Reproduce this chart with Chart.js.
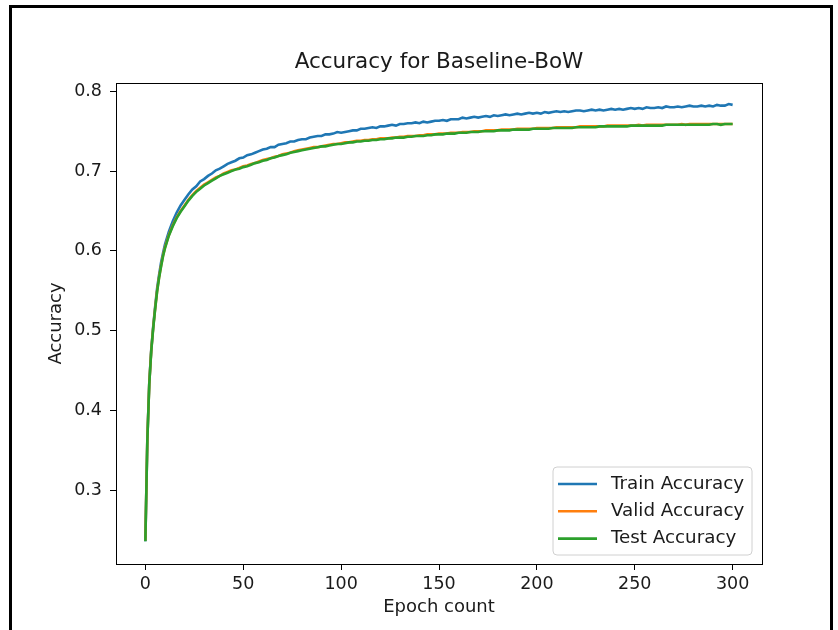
<!DOCTYPE html>
<html lang="en">
<head>
    <meta charset="UTF-8">
    <title>Accuracy for Baseline-BoW</title>
    <script src="https://cdn.jsdelivr.net/npm/chart.js"></script>
    <style>
        * { box-sizing: border-box; margin: 0; padding: 0; }
        body { background: #fff; }
        .wrap { position: relative; width: 838px; height: 630px; overflow: hidden; }
        .frame {
            position: absolute; left: 9px; top: 5px; width: 824px; height: 640px;
            border-left: 3px solid #000; border-top: 3px solid #000; border-right: 3px solid #000;
            pointer-events: none;
        }
    </style>
</head>
<body>
<div class="wrap">
    <canvas id="accChart" width="838" height="630"></canvas>
    <div class="frame"></div>
</div>

<script>
// epochs sampled from the plot
const epochs = [
    0, 1, 2, 3, 4, 5, 6, 7, 8, 9, 10,
    12, 14, 16, 18, 20, 22, 24, 26, 28, 30,
    32, 34, 36, 38, 40, 42, 44, 46, 48, 50,
    52, 54, 56, 58, 60, 62, 64, 66, 68, 70,
    72, 74, 76, 78, 80, 82, 84, 86, 88, 90,
    92, 94, 96, 98, 100, 102, 104, 106, 108, 110,
    112, 114, 116, 118, 120, 122, 124, 126, 128, 130,
    132, 134, 136, 138, 140, 142, 144, 146, 148, 150,
    152, 154, 156, 158, 160, 162, 164, 166, 168, 170,
    172, 174, 176, 178, 180, 182, 184, 186, 188, 190,
    192, 194, 196, 198, 200, 202, 204, 206, 208, 210,
    212, 214, 216, 218, 220, 222, 224, 226, 228, 230,
    232, 234, 236, 238, 240, 242, 244, 246, 248, 250,
    252, 254, 256, 258, 260, 262, 264, 266, 268, 270,
    272, 274, 276, 278, 280, 282, 284, 286, 288, 290,
    292, 294, 296, 298, 300
];

const trainAcc = [
    0.236, 0.362, 0.435, 0.476, 0.505, 0.530, 0.553, 0.570, 0.585, 0.597, 0.608,
    0.624, 0.637, 0.648, 0.657, 0.664, 0.671, 0.677, 0.681, 0.687, 0.690,
    0.694, 0.697, 0.701, 0.703, 0.706, 0.709, 0.711, 0.713, 0.716, 0.717,
    0.720, 0.721, 0.723, 0.725, 0.727, 0.728, 0.730, 0.730, 0.733, 0.734,
    0.735, 0.737, 0.737, 0.739, 0.740, 0.740, 0.742, 0.743, 0.744, 0.744,
    0.746, 0.746, 0.747, 0.749, 0.748, 0.749, 0.750, 0.751, 0.751, 0.753,
    0.753, 0.754, 0.755, 0.754, 0.756, 0.756, 0.757, 0.758, 0.757, 0.759,
    0.759, 0.760, 0.760, 0.761, 0.760, 0.762, 0.761, 0.762, 0.763, 0.763,
    0.764, 0.763, 0.765, 0.765, 0.765, 0.767, 0.766, 0.767, 0.768, 0.767,
    0.768, 0.769, 0.768, 0.770, 0.769, 0.770, 0.771, 0.770, 0.771, 0.772,
    0.771, 0.772, 0.773, 0.772, 0.773, 0.772, 0.774, 0.773, 0.774, 0.775,
    0.774, 0.775, 0.774, 0.775, 0.776, 0.776, 0.775, 0.776, 0.777, 0.776,
    0.777, 0.776, 0.777, 0.778, 0.777, 0.778, 0.777, 0.778, 0.779, 0.778,
    0.779, 0.778, 0.780, 0.779, 0.779, 0.780, 0.779, 0.781, 0.780, 0.780,
    0.781, 0.780, 0.781, 0.782, 0.781, 0.781, 0.782, 0.781, 0.782, 0.781,
    0.783, 0.782, 0.782, 0.784, 0.783
];

const validAcc = [
    0.237, 0.363, 0.434, 0.475, 0.504, 0.528, 0.550, 0.567, 0.581, 0.594, 0.604,
    0.620, 0.632, 0.642, 0.650, 0.657, 0.664, 0.670, 0.675, 0.679, 0.683,
    0.686, 0.689, 0.692, 0.694, 0.697, 0.699, 0.701, 0.702, 0.704, 0.706,
    0.707, 0.709, 0.710, 0.712, 0.714, 0.715, 0.716, 0.718, 0.719, 0.721,
    0.722, 0.723, 0.725, 0.726, 0.727, 0.728, 0.729, 0.730, 0.730, 0.731,
    0.732, 0.733, 0.734, 0.734, 0.735, 0.736, 0.736, 0.737, 0.738, 0.738,
    0.739, 0.739, 0.740, 0.740, 0.741, 0.741, 0.741, 0.742, 0.742, 0.743,
    0.743, 0.744, 0.744, 0.744, 0.745, 0.745, 0.746, 0.746, 0.746, 0.747,
    0.747, 0.747, 0.748, 0.748, 0.748, 0.749, 0.749, 0.749, 0.750, 0.750,
    0.750, 0.751, 0.751, 0.751, 0.751, 0.752, 0.752, 0.752, 0.752, 0.753,
    0.753, 0.753, 0.753, 0.753, 0.754, 0.754, 0.754, 0.754, 0.754, 0.755,
    0.755, 0.755, 0.755, 0.755, 0.755, 0.756, 0.756, 0.756, 0.756, 0.756,
    0.756, 0.756, 0.757, 0.757, 0.757, 0.757, 0.757, 0.757, 0.757, 0.757,
    0.758, 0.757, 0.758, 0.758, 0.758, 0.758, 0.758, 0.758, 0.758, 0.758,
    0.758, 0.759, 0.758, 0.759, 0.759, 0.759, 0.759, 0.759, 0.759, 0.759,
    0.759, 0.759, 0.759, 0.759, 0.759
];

const testAcc = [
    0.236, 0.362, 0.433, 0.474, 0.503, 0.527, 0.549, 0.566, 0.580, 0.593, 0.603,
    0.619, 0.631, 0.641, 0.649, 0.656, 0.663, 0.669, 0.674, 0.678, 0.682,
    0.685, 0.688, 0.691, 0.694, 0.696, 0.698, 0.700, 0.702, 0.703, 0.705,
    0.706, 0.708, 0.710, 0.711, 0.713, 0.714, 0.716, 0.717, 0.719, 0.720,
    0.721, 0.723, 0.724, 0.725, 0.726, 0.727, 0.728, 0.729, 0.730, 0.731,
    0.731, 0.732, 0.733, 0.734, 0.734, 0.735, 0.736, 0.736, 0.737, 0.737,
    0.738, 0.738, 0.739, 0.739, 0.740, 0.740, 0.741, 0.741, 0.742, 0.742,
    0.742, 0.743, 0.743, 0.744, 0.744, 0.744, 0.745, 0.745, 0.746, 0.746,
    0.746, 0.747, 0.747, 0.747, 0.748, 0.748, 0.748, 0.749, 0.749, 0.749,
    0.750, 0.750, 0.750, 0.750, 0.751, 0.751, 0.751, 0.751, 0.752, 0.752,
    0.752, 0.752, 0.752, 0.753, 0.753, 0.753, 0.753, 0.753, 0.754, 0.754,
    0.754, 0.754, 0.754, 0.754, 0.755, 0.755, 0.755, 0.755, 0.755, 0.755,
    0.756, 0.756, 0.756, 0.756, 0.756, 0.756, 0.756, 0.756, 0.757, 0.757,
    0.757, 0.757, 0.757, 0.757, 0.757, 0.757, 0.757, 0.758, 0.758, 0.758,
    0.758, 0.758, 0.758, 0.758, 0.758, 0.758, 0.758, 0.758, 0.758, 0.759,
    0.759, 0.758, 0.759, 0.759, 0.759
];

const xTicks = [0, 50, 100, 150, 200, 250, 300];
const yTicks = [0.3, 0.4, 0.5, 0.6, 0.7, 0.8];

const seriesNames = ['Train Accuracy', 'Valid Accuracy', 'Test Accuracy'];
const seriesColors = ['#1f77b4', '#ff7f0e', '#2ca02c'];

const FONT = 'DejaVu Sans';
const TEXT = '#1a1a1a';

function toPoints(ys) {
    return ys.map((y, i) => ({ x: epochs[i], y: y }));
}

// matplotlib-like frame (all four spines) and the in-plot legend
const mplDecor = {
    id: 'mplDecor',
    afterDatasetsDraw(chart) {
        const { ctx, chartArea: a } = chart;
        ctx.save();
        ctx.strokeStyle = '#000';
        ctx.lineWidth = 1;
        ctx.strokeRect(a.left + 0.5, a.top + 0.5, a.right - a.left, a.bottom - a.top);

        // legend box
        const bw = 199, bh = 88;
        const bx = a.right - 10 - bw, by = a.bottom - 9 - bh;
        const r = 4;
        ctx.beginPath();
        ctx.moveTo(bx + r, by);
        ctx.arcTo(bx + bw, by, bx + bw, by + bh, r);
        ctx.arcTo(bx + bw, by + bh, bx, by + bh, r);
        ctx.arcTo(bx, by + bh, bx, by, r);
        ctx.arcTo(bx, by, bx + bw, by, r);
        ctx.closePath();
        ctx.fillStyle = 'rgba(255,255,255,0.8)';
        ctx.fill();
        ctx.strokeStyle = '#d0d0d0';
        ctx.stroke();

        ctx.font = '18.3px "' + FONT + '"';
        ctx.textBaseline = 'middle';
        ctx.textAlign = 'left';
        seriesNames.forEach((name, i) => {
            const y = by + 17 + i * 27.3;
            ctx.strokeStyle = seriesColors[i];
            ctx.lineWidth = 2.6;
            ctx.beginPath();
            ctx.moveTo(bx + 5, y);
            ctx.lineTo(bx + 44, y);
            ctx.stroke();
            ctx.fillStyle = TEXT;
            ctx.fillText(name, bx + 58, y);
        });
        ctx.restore();
    }
};

new Chart(document.getElementById('accChart'), {
    type: 'line',
    data: {
        datasets: seriesNames.map((name, i) => ({
            label: name,
            data: toPoints([trainAcc, validAcc, testAcc][i]),
            borderColor: seriesColors[i],
            backgroundColor: seriesColors[i],
            borderWidth: 2.6,
            pointRadius: 0,
            tension: 0,
            fill: false,
            order: 3 - i
        }))
    },
    options: {
        responsive: false,
        animation: false,
        layout: { padding: { left: 0, right: 76, top: 0, bottom: 0 } },
        plugins: {
            legend: { display: false },
            tooltip: { enabled: false },
            title: {
                display: true,
                fullSize: false,
                text: 'Accuracy for Baseline-BoW',
                color: TEXT,
                font: { family: FONT, size: 21.5, weight: 'normal' },
                padding: { top: 49.5, bottom: 7.7 }
            }
        },
        scales: {
            x: {
                type: 'linear',
                min: -15,
                max: 315,
                afterBuildTicks(s) { s.ticks = xTicks.map(v => ({ value: v })); },
                afterFit(s) { s.height = 66; },
                grid: { drawOnChartArea: false, drawTicks: true, tickLength: 6, color: '#000' },
                border: { display: false },
                ticks: { color: TEXT, padding: 4, maxRotation: 0, font: { family: FONT, size: 17.5 } },
                title: {
                    display: true, text: 'Epoch count', color: TEXT,
                    font: { family: FONT, size: 18 }, padding: { top: 0, bottom: 12 }
                }
            },
            y: {
                type: 'linear',
                min: 0.2076,
                max: 0.8104,
                afterBuildTicks(s) { s.ticks = yTicks.map(v => ({ value: v })); },
                afterFit(s) { s.width = 116; },
                grid: { drawOnChartArea: false, drawTicks: true, tickLength: 6, color: '#000' },
                border: { display: false },
                ticks: {
                    color: TEXT, padding: 8, font: { family: FONT, size: 17.5 },
                    callback: v => v.toFixed(1)
                },
                title: {
                    display: true, text: 'Accuracy', color: TEXT,
                    font: { family: FONT, size: 18 }, padding: { top: 46, bottom: 0 }
                }
            }
        }
    },
    plugins: [mplDecor]
});
</script>
</body>
</html>
